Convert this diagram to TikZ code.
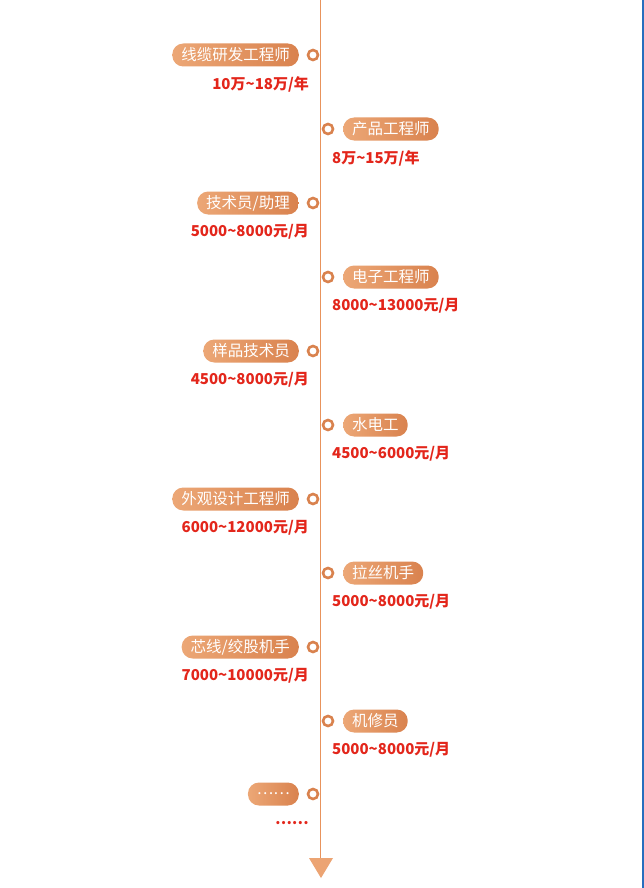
\documentclass[tikz,border=0pt]{standalone}
\usepackage{fontspec}
\setmainfont{Noto Sans CJK SC}
\begin{document}
\begin{tikzpicture}[x=1pt,y=-1pt,
  pill/.style={rounded corners=11pt,left color=boxl,right color=boxr,text=white,inner xsep=9pt,inner ysep=0pt,minimum height=23pt,font=\fontsize{15.5}{15.5}\selectfont},
  ring/.style={circle,draw=boxr,line width=2.6pt,fill=white,minimum size=10pt,inner sep=0pt},
  sal/.style={text=salred,font=\fontsize{15}{15}\selectfont\bfseries,inner sep=0pt}]
\definecolor{boxl}{HTML}{ECA776}
\definecolor{boxr}{HTML}{D9824E}
\definecolor{salred}{HTML}{E3261B}
\definecolor{axis}{HTML}{E8935C}
\useasboundingbox (0,0) rectangle (644,888);
\fill[white] (0,0) rectangle (644,888);
\draw[color={rgb,255:red,40;green,110;blue,190},line width=1.5pt] (643,0) -- (643,888);
\coordinate (top) at (320.5,0);
\coordinate (bot) at (320.5,858);
\draw[axis,line width=1.2pt] (top) -- (bot);
\fill[fill={rgb,255:red,236;green,164;blue,115}] (309,858) -- (333,858) -- (321,878) -- cycle;
\foreach \i/\t/\s [count=\k] in {
 0/{线缆研发工程师}/{10万\textasciitilde18万/年},
 1/{产品工程师}/{8万\textasciitilde15万/年},
 0/{技术员/助理}/{5000\textasciitilde8000元/月},
 1/{电子工程师}/{8000\textasciitilde13000元/月},
 0/{样品技术员}/{4500\textasciitilde8000元/月},
 1/{水电工}/{4500\textasciitilde6000元/月},
 0/{外观设计工程师}/{6000\textasciitilde12000元/月},
 1/{拉丝机手}/{5000\textasciitilde8000元/月},
 0/{芯线/绞股机手}/{7000\textasciitilde10000元/月},
 1/{机修员}/{5000\textasciitilde8000元/月}}{
 \pgfmathsetmacro\yy{55+74*(\k-1)}
 \ifnum\i=0
  \node[ring] (c\k) at (313,\yy) {};
  \node[pill,anchor=east] (p\k) at (299,\yy) {\t};
  \node[sal,anchor=east] (s\k) at (309,\yy+29) {\s};
 \else
  \node[ring] (c\k) at (328,\yy) {};
  \node[pill,anchor=west] (p\k) at (343,\yy) {\t};
  \node[sal,anchor=west] (s\k) at (332,\yy+29) {\s};
 \fi
}
\node[ring] (c11) at (313,794) {};
\node[pill,anchor=east,minimum width=47pt] (p11) at (299,794) {……};
\node[sal,anchor=east] (s11) at (309,823) {……};
\end{tikzpicture}
\end{document}
